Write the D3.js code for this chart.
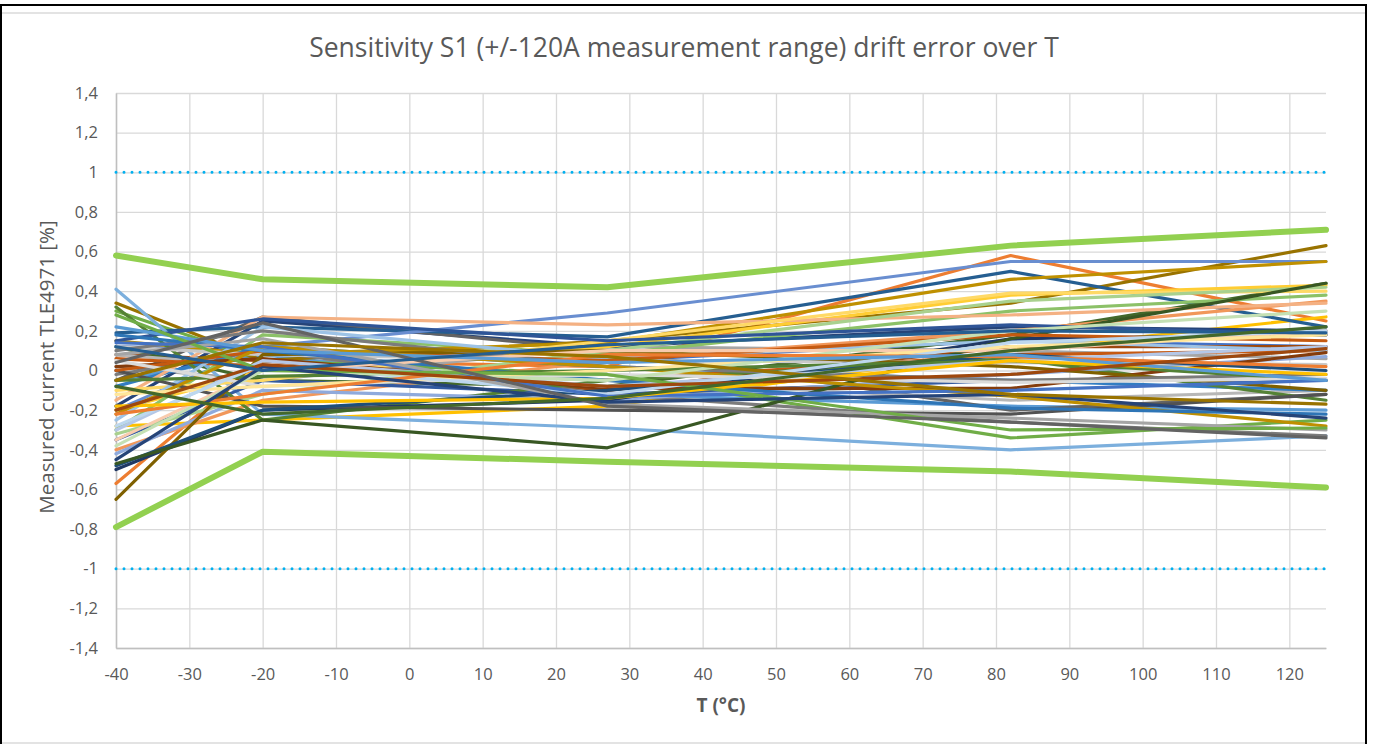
<!DOCTYPE html>
<html><head><meta charset="utf-8">
<script src="https://cdn.jsdelivr.net/npm/d3@7"></script>
<style>body{margin:0;background:#fff;}svg{display:block;}</style>
</head><body>
<svg id="c" width="1373" height="744"></svg>
<script>
const temps = [-40, -20, 27, 82, 125];
const xTicks = [-40,-30,-20,-10,0,10,20,30,40,50,60,70,80,90,100,110,120];
const yTicks = [-1.4,-1.2,-1,-0.8,-0.6,-0.4,-0.2,0,0.2,0.4,0.6,0.8,1,1.2,1.4];
const limitUpper = [0.58, 0.46, 0.42, 0.63, 0.71];
const limitLower = [-0.79, -0.41, -0.46, -0.51, -0.59];
const specLimit = [1, -1];
const seriesColors = [
 "#4472C4","#ED7D31","#A5A5A5","#FFC000","#5B9BD5","#70AD47",
 "#264478","#9E480E","#636363","#997300","#255E91","#43682B",
 "#698ED0","#F1975A","#B7B7B7","#FFCD33","#7CAFDD","#8CC168",
 "#335AA1","#C65911","#7C7C7C","#BF9000","#327DC2","#548235",
 "#8FAADC","#F4B183","#C9C9C9","#FFD966","#9DC3E6","#A9D18E",
 "#203864","#843C0C","#525252","#7F6000","#1F4E79","#385723",
 "#2F5597","#C55A11","#7B7B7B","#BF8F00","#2E75B6","#538135",
 "#B4C7E7","#F8CBAD","#DBDBDB","#FFE699","#BDD7EE","#C5E0B4",
 "#4472C4","#ED7D31","#A5A5A5","#FFC000","#5B9BD5","#70AD47",
 "#264478","#9E480E","#636363","#997300","#255E91","#43682B"
];
const seriesValues = [
 [0.12, 0.10, 0.05, 0.15, 0.12],
 [-0.57, 0.05, 0.02, 0.58, 0.25],
 [0.02, -0.05, 0.12, 0.10, 0.06],
 [-0.28, -0.25, -0.18, 0.10, 0.27],
 [-0.05, 0.08, -0.12, -0.18, -0.20],
 [0.30, 0.05, -0.02, -0.34, -0.25],
 [-0.18, 0.25, 0.12, 0.22, 0.20],
 [0.08, 0.05, -0.10, 0.12, 0.12],
 [-0.05, 0.27, 0.10, -0.20, -0.12],
 [0.34, 0.05, 0.15, 0.34, 0.63],
 [0.19, 0.22, 0.17, 0.50, 0.22],
 [0.12, -0.05, -0.08, 0.18, 0.44],
 [-0.20, 0.12, 0.29, 0.55, 0.55],
 [-0.40, -0.15, 0.05, 0.20, 0.35],
 [0.08, 0.02, -0.05, -0.15, -0.10],
 [-0.20, 0.00, 0.12, 0.38, 0.43],
 [0.41, -0.22, -0.29, -0.40, -0.33],
 [-0.30, 0.18, 0.08, 0.30, 0.38],
 [-0.35, -0.05, -0.12, -0.05, -0.05],
 [0.06, 0.02, -0.05, 0.08, 0.10],
 [-0.02, 0.10, -0.12, -0.26, -0.33],
 [0.15, 0.08, 0.14, 0.46, 0.55],
 [-0.08, 0.12, 0.02, -0.05, -0.10],
 [0.32, -0.25, -0.05, 0.06, -0.15],
 [-0.42, -0.10, -0.15, -0.02, 0.07],
 [-0.15, 0.27, 0.23, 0.28, 0.34],
 [0.12, 0.08, 0.05, 0.04, 0.03],
 [-0.10, -0.05, 0.15, 0.39, 0.40],
 [-0.25, 0.22, 0.06, 0.15, 0.10],
 [-0.32, -0.12, 0.10, 0.35, 0.42],
 [-0.50, -0.20, -0.15, 0.16, 0.18],
 [0.02, 0.06, -0.09, -0.09, 0.09],
 [0.00, -0.18, -0.20, -0.22, -0.12],
 [-0.65, 0.08, 0.10, 0.02, -0.10],
 [-0.48, -0.20, -0.10, 0.08, 0.00],
 [-0.47, -0.25, -0.39, 0.16, 0.44],
 [0.15, 0.26, 0.15, 0.23, 0.18],
 [0.00, 0.10, 0.05, 0.18, 0.15],
 [0.10, 0.20, 0.02, -0.05, -0.02],
 [-0.22, 0.12, 0.02, -0.13, -0.28],
 [0.18, 0.10, -0.05, -0.19, -0.22],
 [-0.05, -0.03, 0.00, 0.05, -0.05],
 [-0.30, 0.05, -0.08, 0.05, 0.12],
 [-0.35, 0.00, 0.10, 0.10, 0.20],
 [0.05, -0.08, -0.02, -0.06, -0.04],
 [-0.12, -0.08, 0.00, 0.12, 0.18],
 [-0.28, 0.03, -0.12, 0.14, 0.20],
 [-0.38, 0.00, -0.05, 0.20, 0.30],
 [0.14, 0.12, -0.13, -0.10, -0.05],
 [-0.22, -0.12, 0.08, 0.07, 0.02],
 [0.08, 0.16, -0.17, -0.24, -0.30],
 [-0.18, -0.16, -0.14, 0.05, -0.02],
 [0.22, 0.10, 0.04, 0.08, -0.05],
 [0.28, 0.00, -0.02, -0.30, -0.29],
 [-0.45, 0.02, -0.16, -0.12, -0.24],
 [-0.20, 0.03, -0.08, -0.02, 0.11],
 [0.04, 0.24, -0.18, -0.26, -0.34],
 [-0.05, 0.14, 0.07, -0.12, -0.17],
 [0.12, 0.00, 0.13, 0.20, 0.19],
 [-0.08, -0.22, -0.14, 0.10, 0.22]
];

const svg = d3.select("#c");
const x = d3.scaleLinear().domain([-40, 125]).range([116, 1326]);
const y = d3.scaleLinear().domain([-1.4, 1.4]).range([648, 93]);
const fmt = v => d3.format(".1f")(v).replace(/\.0$/,"").replace(".", ",").replace("−","-");
const FONT = "Open Sans, sans-serif";

// frame
svg.append("rect").attr("x",1).attr("y",5).attr("width",1365).attr("height",745)
  .attr("fill","none").attr("stroke","#000").attr("stroke-width",2);
svg.append("line").attr("x1",2).attr("x2",1365).attr("y1",13).attr("y2",13).attr("stroke","#e3e3e3").attr("stroke-width",2);
svg.append("line").attr("x1",2).attr("x2",1365).attr("y1",743).attr("y2",743).attr("stroke","#e3e3e3").attr("stroke-width",2);

// grid
const g = svg.append("g");
g.append("g").attr("transform","translate(0,648)")
  .call(d3.axisBottom(x).tickValues(xTicks).tickSize(-(648-93)).tickFormat(""))
  .call(a=>{a.select(".domain").remove(); a.selectAll("line").attr("stroke","#d9d9d9").attr("stroke-width",1.3);});
g.append("g").attr("transform","translate(116,0)")
  .call(d3.axisLeft(y).tickValues(yTicks).tickSize(-(1326-116)).tickFormat(""))
  .call(a=>{a.select(".domain").remove(); a.selectAll("line").attr("stroke","#d9d9d9").attr("stroke-width",1.3);});

// axes labels
const xa = svg.append("g").attr("transform","translate(0,648)")
  .call(d3.axisBottom(x).tickValues(xTicks).tickSize(0).tickPadding(20).tickFormat(d=>String(d)));
xa.select(".domain").attr("stroke","#bfbfbf").attr("stroke-width",1.5);
xa.selectAll("text").attr("fill","#595959").style("font-family",FONT).style("font-size","16.5px");
const ya = svg.append("g").attr("transform","translate(116,0)")
  .call(d3.axisLeft(y).tickValues(yTicks).tickSize(0).tickPadding(18).tickFormat(fmt));
ya.select(".domain").attr("stroke","#bfbfbf").attr("stroke-width",1.5);
ya.selectAll("text").attr("fill","#595959").style("font-family",FONT).style("font-size","16.5px");

// lines
const line = d3.line().x((d,i)=>x(temps[i])).y(d=>y(d));
const lg = svg.append("g").attr("fill","none").attr("stroke-linejoin","round").attr("stroke-linecap","round");
seriesValues.forEach((vals, i) => {
  lg.append("path").attr("d", line(vals)).attr("stroke", seriesColors[i % seriesColors.length]).attr("stroke-width", 3.2);
});
[limitUpper, limitLower].forEach(vals => {
  lg.append("path").attr("d", line(vals)).attr("stroke", "#92D050").attr("stroke-width", 6);
});
specLimit.forEach(v => {
  lg.append("line").attr("x1", x(-40)).attr("x2", x(125)).attr("y1", y(v)).attr("y2", y(v))
    .attr("stroke","#00B0F0").attr("stroke-width",3).attr("stroke-dasharray","0 8").attr("stroke-linecap","round");
});

// titles
svg.append("text").attr("x",684).attr("y",57).attr("text-anchor","middle")
  .attr("fill","#595959").style("font-family",FONT).style("font-size","26.5px")
  .text("Sensitivity S1 (+/-120A measurement range) drift error over T");
svg.append("text").attr("x",721).attr("y",712).attr("text-anchor","middle")
  .attr("fill","#595959").style("font-family",FONT).style("font-size","19px").style("font-weight","bold")
  .text("T (°C)");
svg.append("text").attr("transform","translate(54,367) rotate(-90)").attr("text-anchor","middle")
  .attr("fill","#595959").style("font-family",FONT).style("font-size","20.5px")
  .text("Measured current TLE4971 [%]");
</script>
</body></html>
